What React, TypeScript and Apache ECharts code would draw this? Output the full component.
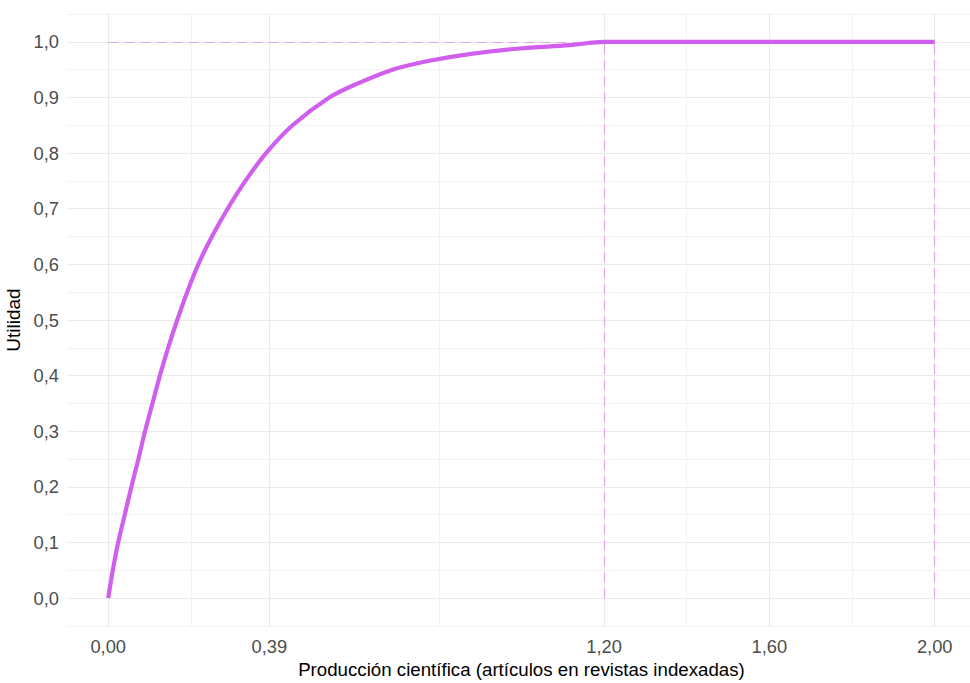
import React, { useEffect, useRef } from "react";
import * as echarts from "echarts";

// Curve: [x, utility]
const curveX = [0, 0.011, 0.024, 0.04, 0.056, 0.073, 0.089, 0.107, 0.125, 0.145, 0.167, 0.191, 0.218, 0.251, 0.289, 0.332, 0.382, 0.446, 0.535, 0.6, 0.688, 0.777, 0.874, 0.995, 1.116, 1.2, 2.0];
const curveY = [0, 0.05, 0.1, 0.15, 0.2, 0.25, 0.3, 0.35, 0.4, 0.45, 0.5, 0.55, 0.6, 0.65, 0.7, 0.75, 0.8, 0.85, 0.9, 0.924, 0.95, 0.966, 0.978, 0.988, 0.994, 1.0, 1.0];

const xMajorTicks = [0, 0.39, 1.2, 1.6, 2.0];
const xMinorTicks = [0.195, 0.795, 1.4, 1.8];

// Reference (dashed) lines
const refXStart = 0;
const refXEnd = 2.0;
const refY = 1.0;
const refVerticals = [1.2, 2.0];

const fmt = (v: number, d: number) => v.toFixed(d).replace(".", ",");

export default function App() {
  const ref = useRef<HTMLDivElement>(null);
  useEffect(() => {
    if (!ref.current) return;
    const chart = echarts.init(ref.current, undefined, { renderer: "svg" });
    const purple = "#D15FEE";
    const dashColor = "rgba(209,95,238,0.5)";
    const font = "'Liberation Sans', Arial, sans-serif";
    chart.setOption({
      animation: false,
      backgroundColor: "#ffffff",
      grid: { left: 66.9, right: 0, top: 14, bottom: 57, containLabel: false, outerBoundsMode: "none" },
      xAxis: {
        type: "value",
        min: -0.1,
        max: 2.1,
        name: "Producción científica (artículos en revistas indexadas)",
        nameLocation: "middle",
        nameGap: 32,
        nameTextStyle: { color: "#000", fontSize: 18.7, fontFamily: font },
        axisLine: { show: false },
        axisTick: { show: false, customValues: xMajorTicks },
        splitLine: { show: false },
        axisLabel: {
          customValues: xMajorTicks,
          color: "#4D4D4D",
          fontSize: 18.3,
          fontFamily: font,
          margin: 11,
          formatter: (v: number) => fmt(v, 2),
        },
      },
      yAxis: {
        type: "value",
        min: -0.05,
        max: 1.05,
        interval: 0.05,
        name: "Utilidad",
        nameLocation: "middle",
        nameGap: 39,
        nameTextStyle: { color: "#000", fontSize: 19, fontFamily: font },
        axisLine: { show: false },
        axisTick: { show: false },
        splitLine: { show: true, lineStyle: { color: ["#F2F2F2", "#EBEBEB"], width: 1 } },
        axisLabel: {
          color: "#4D4D4D",
          fontSize: 18.3,
          fontFamily: font,
          margin: 8,
          formatter: (v: number) => {
            const r = Math.round(v * 100);
            if (r < 0 || r > 100 || r % 10 !== 0) return "";
            return fmt(r / 100, 1);
          },
        },
      },
      series: [
        {
          type: "line",
          data: [],
          silent: true,
          z: 1,
          markLine: {
            silent: true,
            z: 1,
            symbol: "none",
            label: { show: false },
            data: [
              ...xMajorTicks.map((x) => ({ xAxis: x, lineStyle: { color: "#EBEBEB", width: 1.1, type: "solid" } })),
              ...xMinorTicks.map((x) => ({ xAxis: x, lineStyle: { color: "#F2F2F2", width: 1, type: "solid" } })),
            ],
          },
        },
        {
          type: "line",
          data: curveX.map((x, i) => [x, curveY[i]]),
          showSymbol: false,
          smooth: 0.3,
          lineStyle: { color: purple, width: 4.2, cap: "butt" },
          z: 3,
        },
        {
          type: "line",
          data: [],
          silent: true,
          z: 6,
          markLine: {
            silent: true,
            z: 6,
            symbol: "none",
            label: { show: false },
            lineStyle: { color: dashColor, width: 1.2, type: [10, 6] },
            data: [
              [{ coord: [refXStart, refY] }, { coord: [refXEnd, refY] }],
              ...refVerticals.map((x) => [{ coord: [x, 0] }, { coord: [x, refY] }]),
            ],
          },
        },
      ],
    });
    return () => chart.dispose();
  }, []);
  return (
    <div style={{ position: "absolute", left: 0, top: 0, width: 970, height: 683, overflow: "hidden" }}>
      <div ref={ref} style={{ width: 976, height: 683 }} />
    </div>
  );
}
